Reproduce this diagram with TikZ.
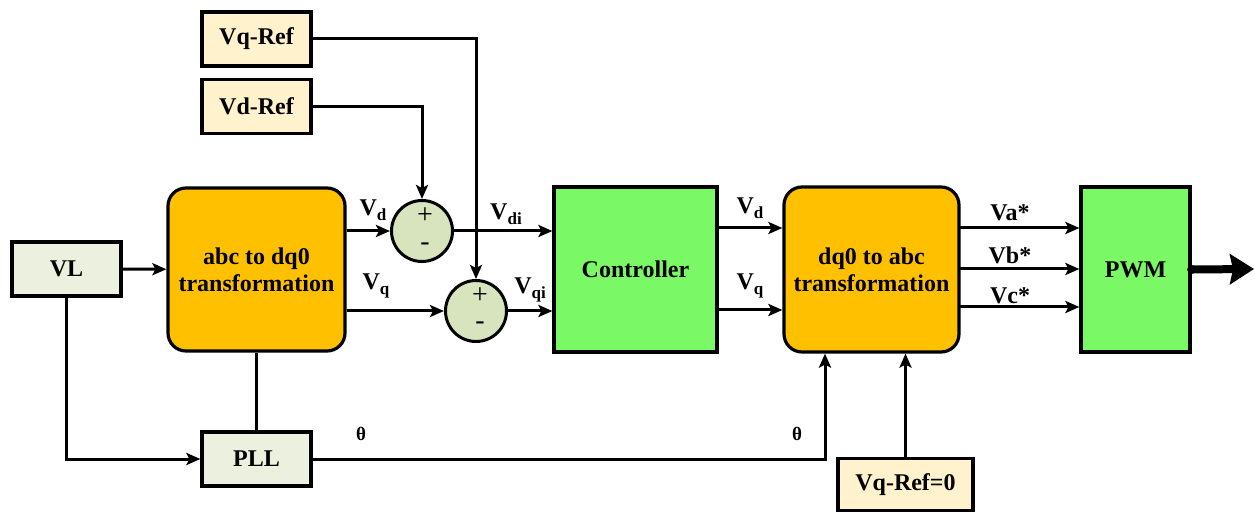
\documentclass[tikz,border=0pt]{standalone}
\usepackage{fontspec}
\setmainfont{Liberation Serif}
\usetikzlibrary{arrows.meta}
\definecolor{orng}{HTML}{FFC000}
\definecolor{grn}{RGB}{122,248,102}
\definecolor{lgrn}{HTML}{EBF1DE}
\definecolor{cream}{HTML}{FFF2CC}
\definecolor{sumc}{HTML}{D7E4BD}
\newcommand\sbs[1]{\raisebox{-5pt}{\fontsize{17}{17}\selectfont\bfseries #1}}
\begin{document}
\begin{tikzpicture}[x=1pt,y=-1pt,
  txt/.style={font=\fontsize{24}{27}\selectfont\bfseries, align=center},
  blk/.style={txt, draw, line width=3.2pt, inner sep=0pt},
  smallbox/.style={blk, minimum width=109pt, minimum height=54pt},
  refbox/.style={smallbox, fill=cream},
  inbox/.style={smallbox, fill=lgrn},
  tall/.style={blk, minimum height=165pt},
  sumnode/.style={draw, circle, line width=3pt, fill=sumc, minimum size=61pt, inner sep=0pt},
  arr/.style={line width=3pt, -{Stealth[length=14pt,width=12pt,inset=3pt]}},
  ln/.style={line width=3pt},
  lab/.style={font=\fontsize{24}{27}\selectfont\bfseries, inner sep=0pt},
  sg/.style={font=\fontsize{28}{28}\selectfont, inner sep=0pt}
]
\useasboundingbox (0,0) rectangle (1254,513);

\node[refbox] (vqref) at (256.5,39) {Vq-Ref};
\node[refbox] (vdref) at (256.5,106.5) {Vd-Ref};
\node[inbox] (vl) at (66.5,269) {VL};
\node[inbox] (pll) at (256.5,459) {PLL};
\node[blk, fill=orng, rounded corners=18pt, minimum width=177pt, minimum height=163pt] (abc) at (256.5,269.5) {abc to dq0\\transformation};
\node[sumnode] (s1) at (422,231) {};
\node[sumnode] (s2) at (476,311) {};
\node[tall, fill=grn, minimum width=163pt] (ctrl) at (635.5,269.5) {Controller};
\node[tall, fill=orng, rounded corners=18pt, minimum width=175pt] (dq) at (871.5,269.5) {dq0 to abc\\transformation};
\node[tall, fill=grn, minimum width=109pt] (pwm) at (1135.5,269.5) {PWM};
\node[refbox, minimum width=135pt, minimum height=52pt] (vq0) at (905.5,484.5) {Vq-Ref=0};

% signs
\node[sg] (p1) at (425,216) {+};
\node[sg] (m1) at (425,247) {-};
\node[sg] (p2) at (480,296) {+};
\node[sg] (m2) at (480,326) {-};

% connectors
\draw[arr] (vl) -- (abc);
\draw[arr] (vl.south) |- (pll.west);
\draw[ln] (abc.south) -- (pll.north);
\draw[arr] (vdref.east) -| (s1.north);
\draw[arr] (vqref.east) -| (s2.north);
\draw[arr] (abc.east |- s1.west) -- (s1.west);
\draw[arr] (abc.east |- s2.west) -- (s2.west);
\draw[arr] (s1.east) -- (ctrl.west |- s1.east);
\draw[arr] (s2.east) -- (ctrl.west |- s2.east);
\coordinate (cd) at (717,228);
\coordinate (cq) at (717,310);
\draw[arr] (cd) -- (dq.west |- cd);
\draw[arr] (cq) -- (dq.west |- cq);
\coordinate (oa) at (959,228);
\coordinate (ob) at (959,269);
\coordinate (oc) at (959,307);
\draw[arr] (oa) -- (pwm.west |- oa);
\draw[arr] (ob) -- (pwm.west |- ob);
\draw[arr] (oc) -- (pwm.west |- oc);
\path (dq.south) ++(-46.5,0) coordinate (dqth);
\draw[arr] (pll.east) -| (dqth);
\draw[arr] (vq0.north) -- (dq.south -| vq0.north);
\coordinate (out) at (1254,269);
\fill (pwm.east) circle (4.5pt);
\draw[line width=8pt, -{Stealth[length=24pt 0 0,width=30pt 0 0,inset=3pt]}] (pwm.east) -- (out);

% labels
\node[lab] (lvd) at (373,210) {V\sbs{d}};
\node[lab] (lvq) at (376,286) {V\sbs{q}};
\node[lab] (lvdi) at (506,214) {V\sbs{di}};
\node[lab] (lvqi) at (530,290) {V\sbs{qi}};
\node[lab] (lvd2) at (750,208) {V\sbs{d}};
\node[lab] (lvq2) at (750,286) {V\sbs{q}};
\node[lab] (la) at (1010,213) {Va*};
\node[lab] (lb) at (1010,255) {Vb*};
\node[lab] (lc) at (1010,296) {Vc*};
\node[lab, font=\fontsize{19}{19}\selectfont\bfseries] (th1) at (361,434) {θ};
\node[lab, font=\fontsize{19}{19}\selectfont\bfseries] (th2) at (797,434) {θ};
\end{tikzpicture}
\end{document}
